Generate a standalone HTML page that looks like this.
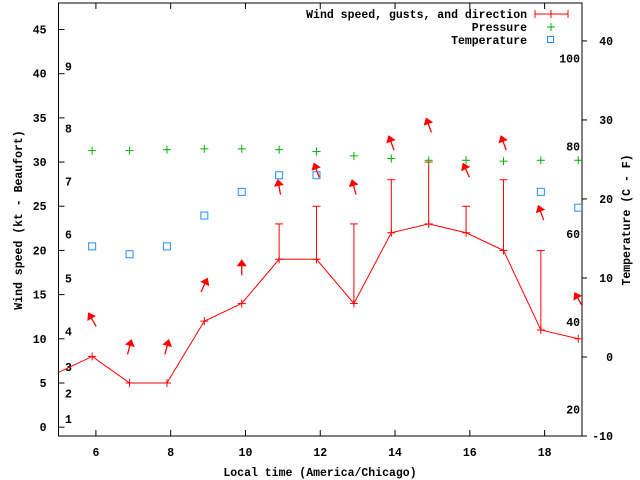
<!DOCTYPE html>
<html><head><meta charset="utf-8"><style>
html,body{margin:0;padding:0;background:#fff}
svg{display:block}
text{font-family:"Liberation Mono",monospace;font-weight:bold;font-size:11.5px;fill:#000}
</style></head><body>
<svg id="chart" width="640" height="480" viewBox="0 0 640 480" xmlns="http://www.w3.org/2000/svg">
<rect x="0" y="0" width="640" height="480" fill="#fff"/>
<g id="axes"></g>
<g id="series"></g>
<g id="legend">
 <text x="527" y="18" text-anchor="end">Wind speed, gusts, and direction</text>
 <g stroke="#f00" stroke-width="1">
  <line x1="535" y1="14" x2="568" y2="14"/><line x1="535" y1="10" x2="535" y2="18"/><line x1="568" y1="10" x2="568" y2="18"/><line x1="551" y1="10" x2="551" y2="18"/>
 </g>
 <text x="527" y="31" text-anchor="end">Pressure</text>
 <g stroke="#00b000" stroke-width="1"><line x1="547" y1="27" x2="555" y2="27"/><line x1="551" y1="23" x2="551" y2="31"/></g>
 <text x="527" y="44" text-anchor="end">Temperature</text>
 <rect x="547.5" y="36.5" width="6" height="6" fill="none" stroke="#1e90ff"/>
</g>
</svg>
<script>
// data
const times = [4.9,5.9,6.9,7.9,8.9,9.9,10.9,11.9,12.9,13.9,14.9,15.9,16.9,17.9,18.9];
const speeds = [6,8,5,5,12,14,19,19,14,22,23,22,20,11,10];
const gusts = [null,null,null,null,null,null,23,25,23,28,30,25,28,20,null];
const arrowKt = [null,12.2,9.1,9.1,16.1,18.1,27.2,29.1,27.2,32.2,34.2,29.1,32.2,24.3,14.5];
const arrowDeg = [0,-30,15,15,25,0,-10,-20,-15,-20,-20,-25,-20,-20,-30];
const pressure = [null,31.3,31.3,31.4,31.5,31.5,31.4,31.2,30.7,30.4,30.2,30.2,30.1,30.2,30.2];
const tempC = [null,14.0,13.0,14.0,17.9,20.9,23.0,23.0,null,null,null,null,null,20.9,18.9];
const xTicks = [6,8,10,12,14,16,18];
const yTicks = [0,5,10,15,20,25,30,35,40,45];
const y2Ticks = [-10,0,10,20,30,40];
const fLabels = [20,40,60,80,100];
const beaufortLabels = ["1","2","3","4","5","6","7","8","9"];
const beaufortKt = [0.9,3.8,6.8,10.8,16.8,21.8,27.8,33.8,40.8];

const L=58.5,R=582,T=3,B=436;
const X=t=>L+(t-5)/(19-5)*(R-L);
const Y=v=>B-(v+1)/(48+1)*(B-T);
const Y2=c=>B-(c+10)/(44.8+10)*(B-T);
const NS="http://www.w3.org/2000/svg";
function mk(tag,attrs,parent,txt){const e=document.createElementNS(NS,tag);for(const k in attrs)e.setAttribute(k,attrs[k]);if(txt!==undefined)e.textContent=txt;parent.appendChild(e);return e;}
const ax=document.getElementById('axes'), se=document.getElementById('series');

let box=mk('rect',{x:L,y:T,width:R-L,height:B-T,fill:'none',stroke:'#000','stroke-width':1},ax);


xTicks.forEach(t=>{
  const x=X(t);
  mk('line',{x1:x,y1:B,x2:x,y2:B-6,stroke:'#000'},ax);
  mk('line',{x1:x,y1:T,x2:x,y2:T+6,stroke:'#000'},ax);
  const tx=mk('text',{x:x,y:B+20,'text-anchor':'middle'},ax,String(t));
  
  
});
yTicks.forEach(v=>{
  const y=Y(v);
  mk('line',{x1:L,y1:y,x2:L+6,y2:y,stroke:'#000'},ax);
  const tx=mk('text',{x:L-12,y:y+4,'text-anchor':'end'},ax,String(v));
  
  
});
y2Ticks.forEach(c=>{
  const y=Y2(c);
  mk('line',{x1:R,y1:y,x2:R+5,y2:y,stroke:'#000'},ax);
  const tx=mk('text',{x:613,y:y+4,'text-anchor':'end'},ax,String(c));
  
  
});
fLabels.forEach(f=>{
  const y=Y2((f-32)*5/9);
  const tx=mk('text',{x:580,y:y+4,'text-anchor':'end'},ax,String(f));
  
  
});
beaufortLabels.forEach((b,i)=>{
  const tx=mk('text',{x:65,y:Y(beaufortKt[i])+4},ax,b);
  
  
});
let xt=mk('text',{x:320,y:476,'text-anchor':'middle'},ax,'Local time (America/Chicago)');


let yt=mk('text',{x:0,y:0,'text-anchor':'middle',transform:'translate(22,220) rotate(-90)'},ax,'Wind speed (kt - Beaufort)');


let y2t=mk('text',{x:0,y:0,'text-anchor':'middle',transform:'translate(630,220) rotate(-90)'},ax,'Temperature (C - F)');



// clip
const defs=mk('defs',{},se);const cp=mk('clipPath',{id:'clip'},defs);mk('rect',{x:L,y:T,width:R-L,height:B-T},cp);
const g=mk('g',{'clip-path':'url(#clip)'},se);

// wind line
const pts=times.map((t,i)=>X(t)+','+Y(speeds[i])).join(' ');
let pl=mk('polyline',{points:pts,fill:'none',stroke:'#f00','stroke-width':1},g);


times.forEach((t,i)=>{
  const x=X(t),y=Y(speeds[i]);
  const m=mk('g',{stroke:'#f00','stroke-width':1},g);
  
  
  mk('line',{x1:x-4,y1:y,x2:x+4,y2:y},m);mk('line',{x1:x,y1:y-4,x2:x,y2:y+4},m);
  if(gusts[i]!==null){
    const gy=Y(gusts[i]);
    const eb=mk('g',{stroke:'#f00','stroke-width':1},g);
    
    
    mk('line',{x1:x,y1:y,x2:x,y2:gy},eb);mk('line',{x1:x-4,y1:gy,x2:x+4,y2:gy},eb);
  }
  if(arrowKt[i]!==null){
    const ay=Y(arrowKt[i]);
    const ar=mk('g',{transform:`translate(${x},${ay}) rotate(${arrowDeg[i]})`},g);
    
    
    mk('line',{x1:0,y1:-4,x2:0,y2:8,stroke:'#f00','stroke-width':1.3},ar);
    mk('polygon',{points:'0,-8 -5,-1 5,-1',fill:'#f00'},ar);
  }
  if(pressure[i]!==null){
    const py=Y(pressure[i]);
    const p=mk('g',{stroke:'#00b000','stroke-width':1},g);
    
    
    mk('line',{x1:x-4,y1:py,x2:x+4,y2:py},p);mk('line',{x1:x,y1:py-4,x2:x,y2:py+4},p);
  }
  if(tempC[i]!==null){
    const ty=Y2(tempC[i]);
    const r=mk('rect',{x:x-3.5,y:ty-3.5,width:7,height:7,fill:'none',stroke:'#1e90ff','stroke-width':1},g);
    
    
  }
});
</script>
</body></html>
